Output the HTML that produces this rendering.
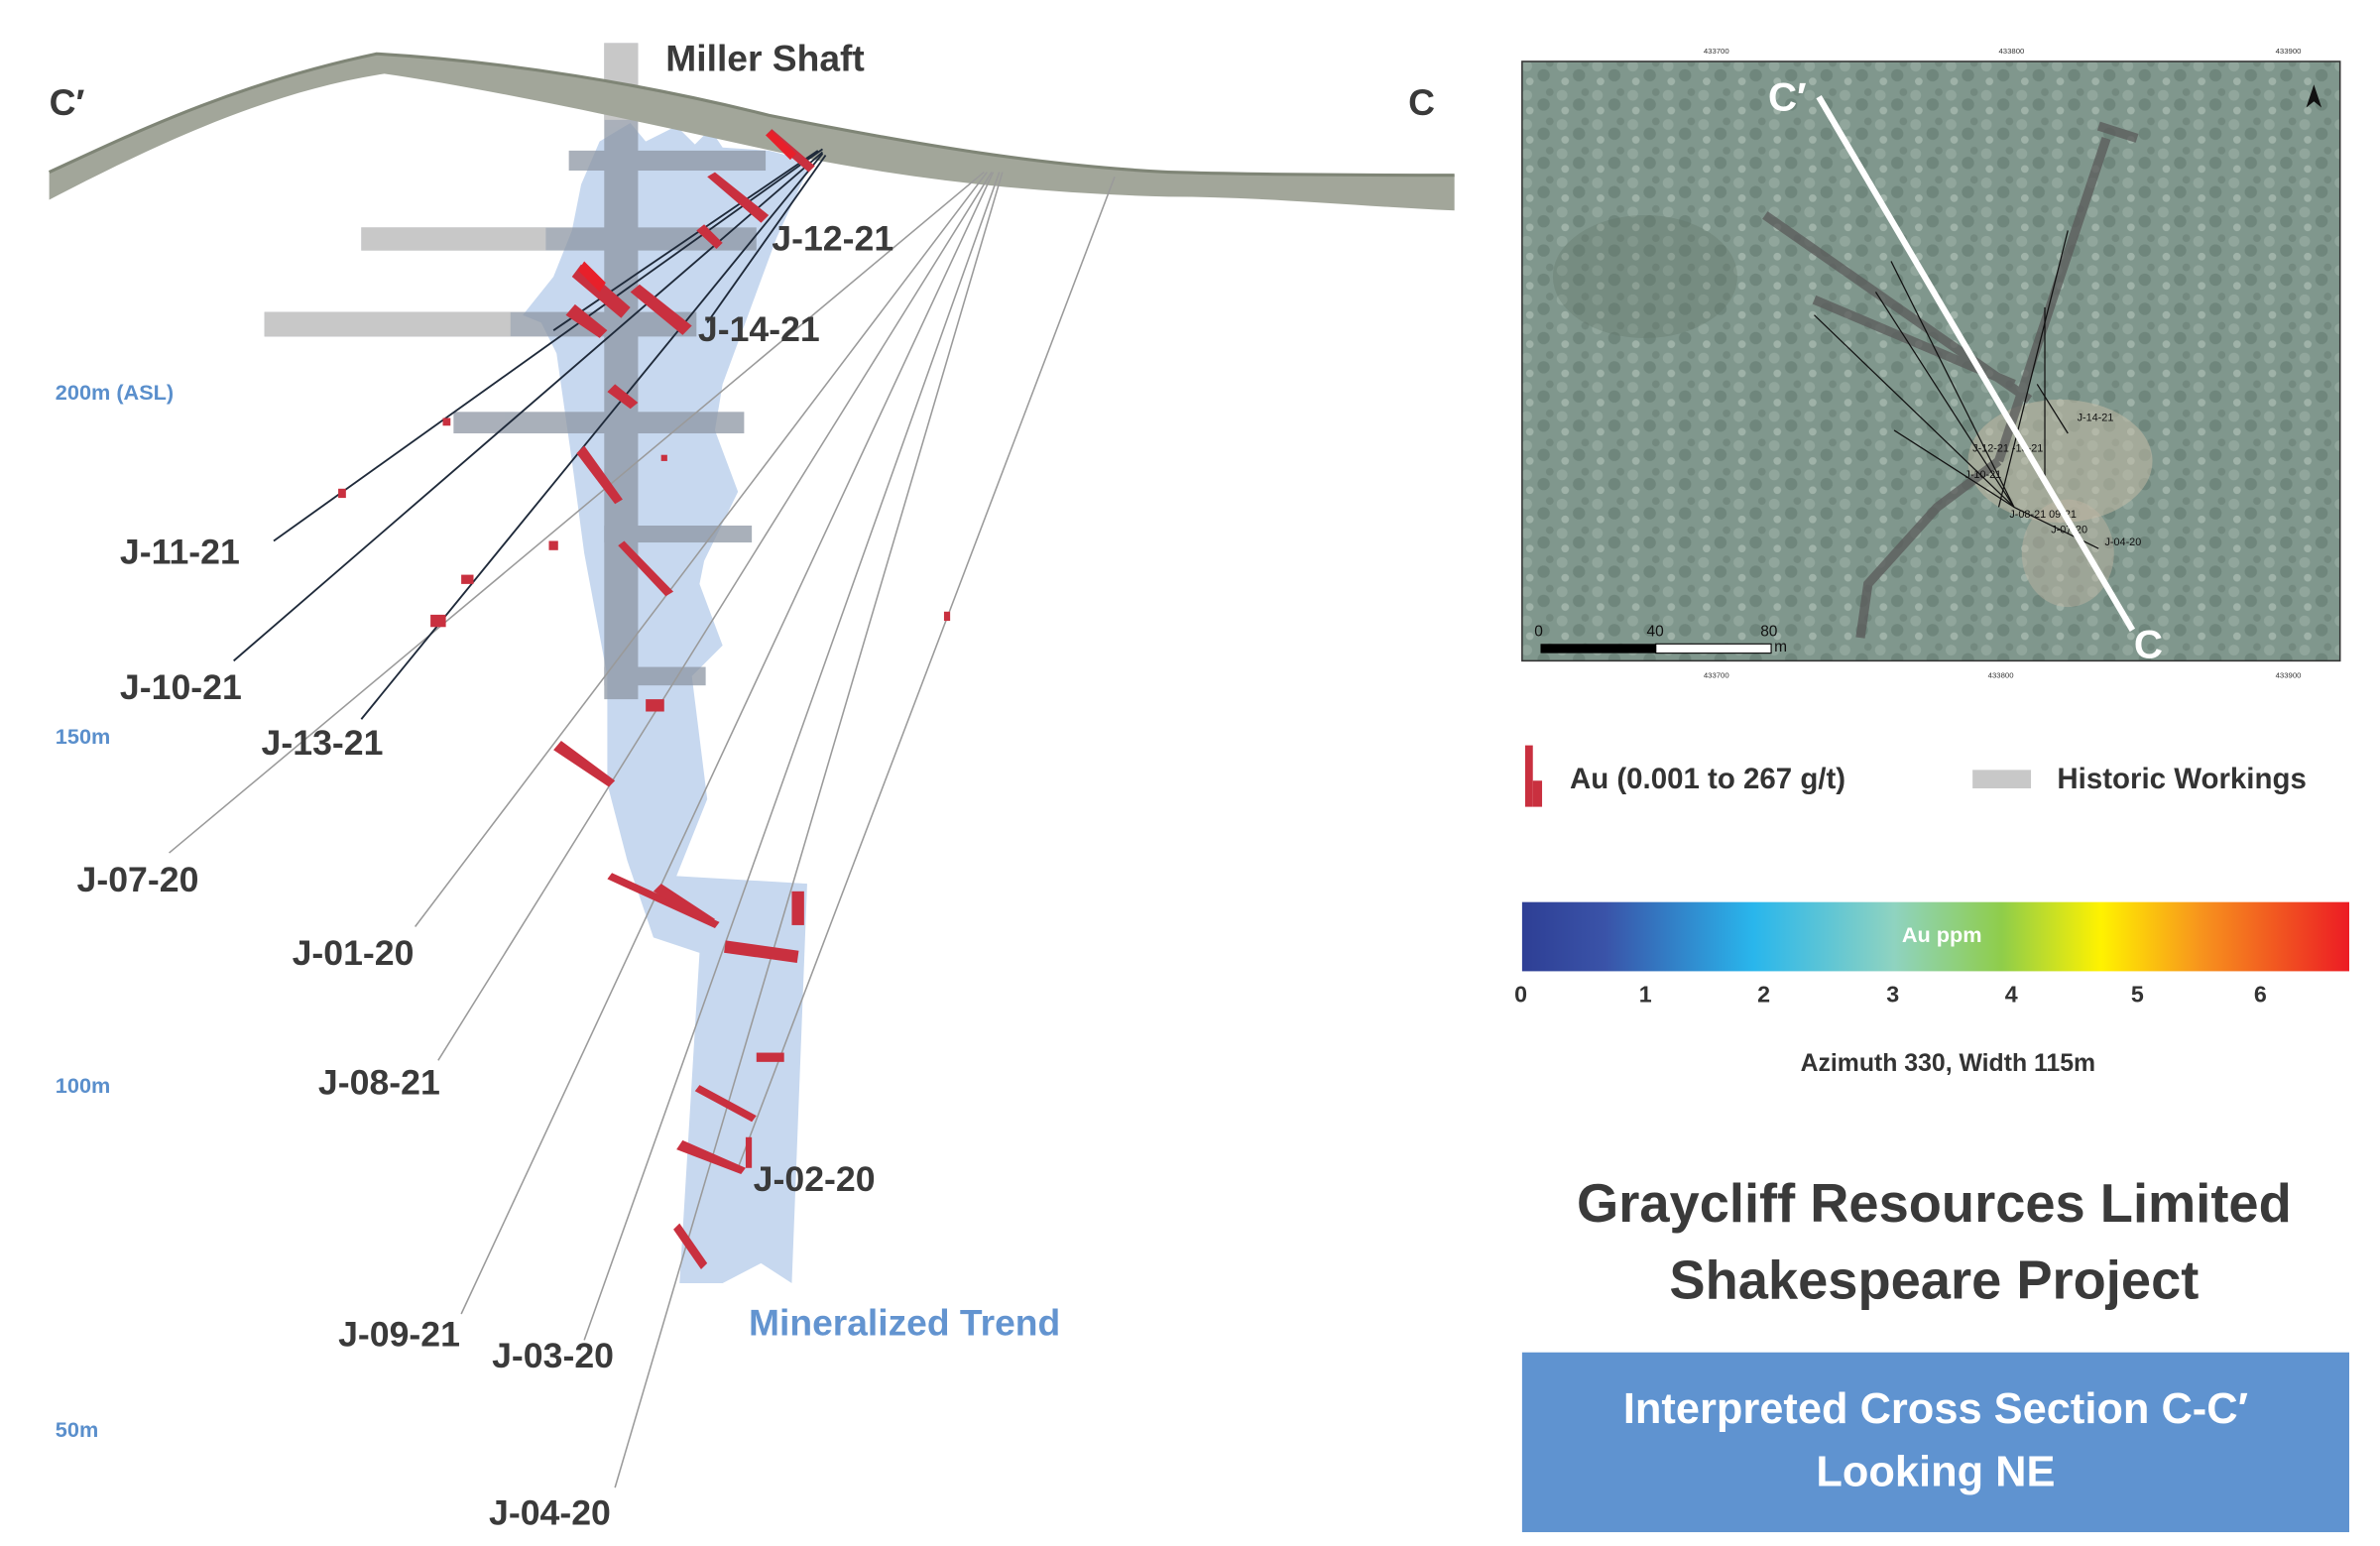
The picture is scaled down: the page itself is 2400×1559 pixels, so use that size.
<!DOCTYPE html>
<html><head><meta charset="utf-8"><style>
html,body{margin:0;padding:0;background:#fff;width:2400px;height:1559px;overflow:hidden}
svg{display:block}
text{font-family:"Liberation Sans","DejaVu Sans",sans-serif}
</style></head><body>
<svg width="2400" height="1559" viewBox="0 0 1548 1006" preserveAspectRatio="none" xmlns="http://www.w3.org/2000/svg">
<defs>
<linearGradient id="cb" x1="0" x2="1" y1="0" y2="0">
<stop offset="0" stop-color="#2e3f95"/><stop offset="0.1" stop-color="#3a53a8"/><stop offset="0.28" stop-color="#29b6ec"/><stop offset="0.45" stop-color="#8fd3c0"/><stop offset="0.58" stop-color="#8fcd4a"/><stop offset="0.7" stop-color="#fff200"/><stop offset="0.82" stop-color="#f7941d"/><stop offset="1" stop-color="#ec1c24"/>
</linearGradient>
<pattern id="tree" width="23" height="19" patternUnits="userSpaceOnUse">
<rect width="23" height="19" fill="#80978d"/>
<circle cx="4" cy="5" r="3.5" fill="#91a69c"/><circle cx="15" cy="11" r="4" fill="#6f867c"/><circle cx="6" cy="15" r="2.5" fill="#9fb2a8"/><circle cx="19" cy="3" r="2.5" fill="#73897f"/>
</pattern>
</defs>

<polygon points="390,92 410,80 420,92 440,82 452,94 462,84 470,96 500,98 528,105 505,155 470,250 465,280 480,320 458,365 455,380 470,420 450,440 460,520 440,570 525,575 515,835 495,822 470,835 442,835 455,620 425,610 408,560 395,510 395,440 380,360 372,300 362,230 352,210 340,205 360,180 372,150 378,120" fill="#c7d8ef"/>

<g fill="#8d96a3" opacity="0.75">
<rect x="370" y="98" width="128" height="13"/>
<rect x="235" y="148" width="257" height="15"/>
<rect x="172" y="203" width="281" height="16"/>
<rect x="295" y="268" width="189" height="14"/>
<rect x="393" y="342" width="96" height="11"/>
<rect x="393" y="434" width="66" height="12"/>
<rect x="393" y="28" width="22" height="427"/>
</g>
<g fill="#c8c8c8">
<rect x="235" y="148" width="120" height="15"/><rect x="172" y="203" width="160" height="16"/><rect x="393" y="28" width="22" height="50"/>
</g>

<path d="M32,112 C80,90 150,55 245,35 C330,40 420,55 500,75 C600,95 680,108 760,112 C830,114 900,114 946,114 L946,137 C880,134 820,128 760,128 C680,126 600,118 520,102 C420,80 320,58 250,48 C170,60 90,100 32,130 Z" fill="#a2a69a"/>
<path d="M32,112 C80,90 150,55 245,35 C330,40 420,55 500,75 C600,95 680,108 760,112 C830,114 900,114 946,114" fill="none" stroke="#7f8576" stroke-width="2"/>

<g stroke="#9a9a9a" stroke-width="1" fill="none">
<line x1="640" y1="112" x2="110" y2="555"/>
<line x1="642" y1="112" x2="270" y2="603"/>
<line x1="645" y1="112" x2="285" y2="690"/>
<line x1="646" y1="112" x2="300" y2="855"/>
<line x1="650" y1="112" x2="380" y2="872"/>
<line x1="652" y1="112" x2="400" y2="968"/>
<line x1="725" y1="115" x2="480" y2="760"/>
</g>
<g stroke="#1f2a3a" stroke-width="1.2" fill="none">
<line x1="535" y1="97" x2="178" y2="352"/>
<line x1="535" y1="99" x2="152" y2="430"/>
<line x1="535" y1="100" x2="235" y2="468"/>
<line x1="537" y1="101" x2="460" y2="210"/>
<line x1="532" y1="98" x2="360" y2="215"/>
</g>

<g fill="#c9303f">
<polygon points="498,88 502,84 530,108 526,112"/>
<polygon points="460,115 465,112 500,140 495,145"/>
<polygon points="372,180 378,172 410,200 404,207"/>
<polygon points="368,205 374,198 395,215 390,220"/>
<polygon points="410,190 416,185 450,212 444,218"/>
<polygon points="453,150 458,146 470,158 466,162"/>
<polygon points="395,255 400,250 415,262 410,266"/>
<polygon points="375,295 380,290 405,325 400,328"/>
<polygon points="402,355 406,352 438,385 433,388"/>
<polygon points="360,488 365,482 400,508 396,512"/>
<polygon points="395,572 398,568 468,600 465,604"/>
<polygon points="425,580 430,575 465,598 462,602"/>
<rect x="472" y="612" width="48" height="8" transform="rotate(8 472 612)"/>
<polygon points="452,710 455,706 492,726 489,730"/>
<polygon points="440,748 444,742 485,760 482,764"/>
<polygon points="438,800 442,796 460,822 456,826"/>
<rect x="492" y="685" width="18" height="6"/>
<rect x="515" y="580" width="8" height="22"/>
<rect x="485" y="740" width="4" height="20"/>
<rect x="420" y="455" width="12" height="8"/>
<rect x="280" y="400" width="10" height="8"/>
<rect x="300" y="374" width="8" height="6"/>
<rect x="357" y="352" width="6" height="6"/>
<rect x="220" y="318" width="5" height="6"/>
<rect x="288" y="272" width="5" height="5"/>
<rect x="430" y="296" width="4" height="4"/>
<rect x="614" y="398" width="4" height="6"/>
</g>
<g fill="#e8202a"><polygon points="498,88 502,85 518,100 514,104"/><polygon points="376,176 380,170 394,184 390,190"/></g>

<g fill="#3a3a3a" font-size="23" font-weight="bold">
<text x="433" y="46" font-size="24">Miller Shaft</text>
<text x="32" y="75" font-size="24">C′</text>
<text x="916" y="75" font-size="24">C</text>
<text x="502" y="163">J-12-21</text>
<text x="454" y="222">J-14-21</text>
<text x="78" y="367">J-11-21</text>
<text x="78" y="455">J-10-21</text>
<text x="170" y="491">J-13-21</text>
<text x="50" y="580">J-07-20</text>
<text x="190" y="628">J-01-20</text>
<text x="207" y="712">J-08-21</text>
<text x="490" y="775">J-02-20</text>
<text x="220" y="876">J-09-21</text>
<text x="320" y="890">J-03-20</text>
<text x="318" y="992">J-04-20</text>
</g>
<text x="487" y="869" font-size="24" fill="#6394d0" font-weight="bold">Mineralized Trend</text>
<g fill="#5a8fcc" font-size="14" font-weight="bold">
<text x="36" y="260">200m (ASL)</text><text x="36" y="484">150m</text><text x="36" y="711">100m</text><text x="36" y="935">50m</text>
</g>

<rect x="990" y="40" width="532" height="390" fill="url(#tree)" stroke="#333" stroke-width="1"/>
<ellipse cx="1340" cy="300" rx="60" ry="40" fill="#c7bda8" opacity="0.5"/>
<ellipse cx="1345" cy="360" rx="30" ry="35" fill="#c0b6a3" opacity="0.45"/>
<ellipse cx="1070" cy="180" rx="60" ry="40" fill="#5f7568" opacity="0.3"/>
<g stroke="#5a5a5a" stroke-width="6" opacity="0.75" fill="none">
<line x1="1148" y1="140" x2="1320" y2="260"/><line x1="1180" y1="195" x2="1310" y2="250"/>
<line x1="1370" y1="90" x2="1300" y2="300"/><line x1="1390" y1="90" x2="1365" y2="82"/>
<path d="M1300,300 L1260,330 L1215,380 L1210,415"/>
</g>
<g stroke="#111" stroke-width="0.8">
<line x1="1345" y1="150" x2="1300" y2="330"/><line x1="1230" y1="170" x2="1310" y2="330"/>
<line x1="1220" y1="190" x2="1310" y2="330"/><line x1="1180" y1="205" x2="1310" y2="330"/>
<line x1="1232" y1="280" x2="1310" y2="330"/><line x1="1330" y1="200" x2="1330" y2="310"/>
<line x1="1310" y1="330" x2="1365" y2="357"/><line x1="1325" y1="250" x2="1345" y2="282"/>
</g>
<g font-size="7" fill="#111"><text x="1351" y="274">J-14-21</text><text x="1283" y="294">J-12-21  -13-21</text><text x="1278" y="311">J-10-21</text><text x="1307" y="337">J-08-21  09-21</text><text x="1334" y="347">J-07-20</text><text x="1369" y="355">J-04-20</text></g>
<line x1="1183" y1="63" x2="1387" y2="410" stroke="#fff" stroke-width="4"/>
<text x="1150" y="72" font-size="26" fill="#fff" font-weight="bold">C′</text>
<text x="1388" y="428" font-size="26" fill="#fff" font-weight="bold">C</text>
<polygon points="1505,55 1500,70 1505,66 1510,70" fill="#111"/>
<rect x="1002" y="419" width="75" height="6" fill="#000"/><rect x="1077" y="419" width="75" height="6" fill="#fff" stroke="#000" stroke-width="0.7"/>
<g font-size="10" fill="#111"><text x="998" y="414">0</text><text x="1071" y="414">40</text><text x="1145" y="414">80</text><text x="1154" y="424">m</text></g>
<g font-size="5" fill="#333"><text x="1108" y="35">433700</text><text x="1300" y="35">433800</text><text x="1480" y="35">433900</text><text x="1108" y="441">433700</text><text x="1293" y="441">433800</text><text x="1480" y="441">433900</text></g>

<rect x="992" y="485" width="5" height="40" fill="#c9303f"/><rect x="997" y="508" width="6" height="17" fill="#c9303f"/>
<text x="1021" y="513" font-size="19" fill="#333" font-weight="bold">Au (0.001 to 267 g/t)</text>
<rect x="1283" y="501" width="38" height="12" fill="#c8c8c8"/>
<text x="1338" y="513" font-size="19" fill="#333" font-weight="bold">Historic Workings</text>
<rect x="990" y="587" width="538" height="45" fill="url(#cb)"/>
<text x="1237" y="613" font-size="14" fill="#fff" font-weight="bold">Au ppm</text>
<g font-size="15" fill="#333" font-weight="bold"><text x="985" y="652">0</text><text x="1066" y="652">1</text><text x="1143" y="652">2</text><text x="1227" y="652">3</text><text x="1304" y="652">4</text><text x="1386" y="652">5</text><text x="1466" y="652">6</text></g>
<text x="1267" y="697" font-size="16" fill="#333" text-anchor="middle" font-weight="bold">Azimuth 330, Width 115m</text>
<text x="1258" y="795" font-size="35" fill="#3a3a3a" text-anchor="middle" font-weight="bold">Graycliff Resources Limited</text>
<text x="1258" y="845" font-size="35" fill="#3a3a3a" text-anchor="middle" font-weight="bold">Shakespeare Project</text>
<rect x="990" y="880" width="538" height="117" fill="#5f93d0"/>
<text x="1259" y="926" font-size="28" fill="#fff" text-anchor="middle" font-weight="bold">Interpreted Cross Section C-C′</text>
<text x="1259" y="967" font-size="28" fill="#fff" text-anchor="middle" font-weight="bold">Looking NE</text>
</svg>
</body></html>
